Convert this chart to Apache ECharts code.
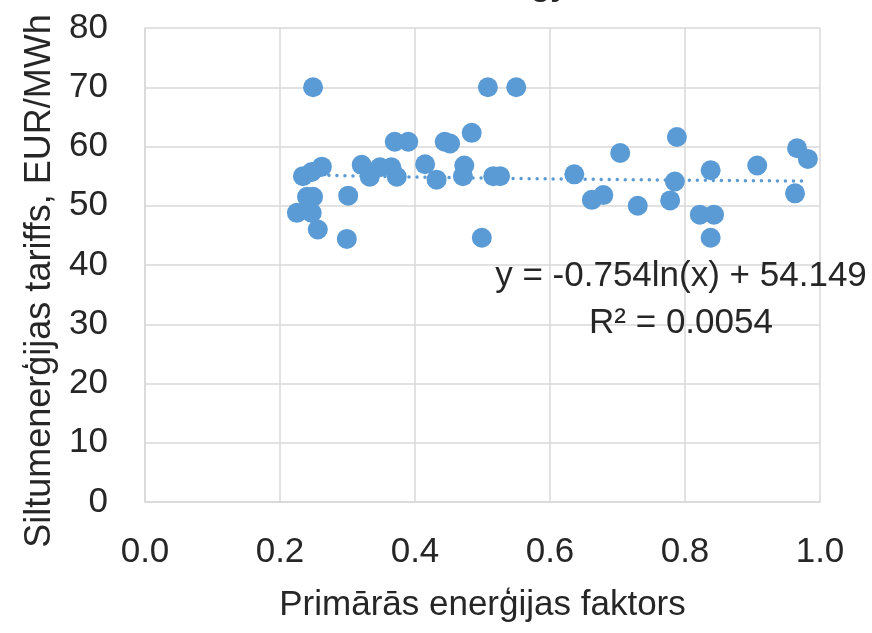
<!DOCTYPE html>
<html>
<head>
<meta charset="utf-8">
<script src="https://cdn.jsdelivr.net/npm/echarts@6/dist/echarts.min.js"></script>
<style>
html,body{margin:0;padding:0;background:#fff;}
#chart{width:872px;height:633px;}
</style>
</head>
<body>
<div id="chart"></div>
<script>
// Primārās enerģijas faktors (x) and tariff EUR/MWh (y)
var factorValues = [0.249,0.234,0.247,0.262,0.240,0.249,0.225,0.247,0.256,0.301,0.299,0.321,0.333,0.348,0.365,0.373,0.370,0.390,0.415,0.432,0.444,0.452,0.484,0.473,0.471,0.499,0.508,0.550,0.516,0.526,0.636,0.662,0.679,0.704,0.730,0.778,0.785,0.788,0.822,0.843,0.838,0.838,0.907,0.963,0.966,0.982];
var tariffValues = [70.0,55.0,55.7,56.6,51.5,51.5,48.8,48.8,46.0,51.7,44.4,56.9,54.9,56.5,56.5,54.9,60.8,60.8,57.0,54.4,60.8,60.5,62.3,56.8,55.0,44.6,70.0,70.0,55.0,55.0,55.3,51.0,51.8,58.9,50.0,50.9,54.1,61.6,48.5,48.5,56.0,44.6,56.8,52.1,59.7,57.9];
// Trendline as shown on the chart: y = a*ln(x) + b
var trendA = -0.754;
var trendB = 54.149;
var trendLabel = 'y = -0.754ln(x) + 54.149';
var r2Label = 'R² = 0.0054';
var xTitle = 'Primārās enerģijas faktors';
var yTitle = 'Siltumenerģijas tariffs, EUR/MWh';
var chartTitle = 'Energy';

var FONT = "'Liberation Sans',Arial,sans-serif";
var BLUE = '#5b9bd5';
var GRID = '#d9d9d9';
var TEXT = '#262626';

var points = factorValues.map(function(v,i){ return [v, tariffValues[i]]; });
var xmin = Math.min.apply(null, factorValues), xmax = Math.max.apply(null, factorValues);
var trend = [];
for (var k = 0; k <= 100; k++) {
  var xv = xmin + (xmax - xmin) * k / 100;
  trend.push([xv, trendA * Math.log(xv) + trendB]);
}

var chart = echarts.init(document.getElementById('chart'), null, {renderer:'canvas'});
chart.setOption({
  animation:false,
  backgroundColor:'#fff',
  grid:{left:145, right:52, top:28, bottom:131, containLabel:false, outerBoundsMode:'none'},
  xAxis:{
    type:'value', min:0, max:1, interval:0.2,
    name:xTitle, nameLocation:'middle', nameGap:86,
    nameTextStyle:{fontFamily:FONT, fontSize:35, color:TEXT},
    axisLine:{show:true, lineStyle:{color:GRID, width:1.5}},
    axisTick:{show:false},
    axisLabel:{fontFamily:FONT, fontSize:35, color:TEXT, margin:33,
      formatter:function(v){return v.toFixed(1);}},
    splitLine:{show:true, lineStyle:{color:GRID, width:1.5}}
  },
  yAxis:{
    type:'value', min:0, max:80, interval:10,
    name:yTitle, nameLocation:'middle', nameGap:77, nameRotate:90,
    nameTextStyle:{fontFamily:FONT, fontSize:36, color:TEXT, padding:[0,32,0,0]},
    axisLine:{show:true, lineStyle:{color:GRID, width:1.5}},
    axisTick:{show:false},
    axisLabel:{fontFamily:FONT, fontSize:35, color:TEXT, margin:37},
    splitLine:{show:true, lineStyle:{color:GRID, width:1.5}}
  },
  series:[
    {
      type:'line', data:trend, showSymbol:false, symbol:'none', silent:true,
      lineStyle:{color:BLUE, width:3.5, type:[0.01,8], cap:'round'},
      z:1
    },
    {
      type:'scatter', data:points, symbol:'circle', symbolSize:20,
      itemStyle:{color:BLUE, opacity:1},
      z:2
    }
  ],
  graphic:[
    {type:'text', x:681, y:276, z:10, style:{text:trendLabel, font:'35px '+FONT, fill:TEXT, textAlign:'center', textVerticalAlign:'middle'}},
    {type:'text', x:681, y:323, z:10, style:{text:r2Label, font:'35px '+FONT, fill:TEXT, textAlign:'center', textVerticalAlign:'middle'}},
    {type:'text', x:568, y:-14, style:{text:chartTitle, font:'bold 32px '+FONT, fill:TEXT, textAlign:'right', textVerticalAlign:'middle'}}
  ]
});
</script>
</body>
</html>
